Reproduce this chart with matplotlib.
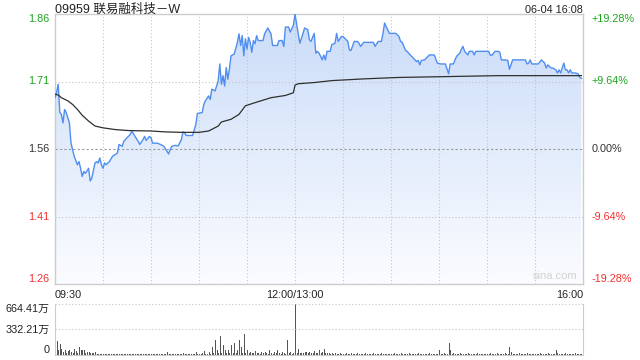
import matplotlib
matplotlib.use("Agg")
import matplotlib.pyplot as plt
import numpy as np
from matplotlib.colors import LinearSegmentedColormap

plt.rcParams['font.family'] = ['Liberation Sans', 'Noto Sans CJK SC', 'DejaVu Sans']

title = '09959 联易融科技－W'
stamp = '06-04 16:08'

# trading minutes since 09:30 (12:00 and 13:00 share minute 150)
minutes = [0, 1, 2, 3, 4, 5, 6, 7, 9, 10, 11, 12, 14, 15, 16, 17, 18, 19, 21, 22,
           23, 25, 26, 27, 28, 29, 30, 31, 32, 33, 34, 36, 39, 40, 42, 43, 45, 47, 48, 50,
           52, 53, 55, 56, 57, 59, 60, 61, 64, 66, 68, 70, 71, 72, 73, 75, 77, 79, 80, 81,
           82, 84, 86, 88, 89, 92, 93, 94, 96, 97, 98, 100, 101, 102, 103, 104, 105, 106, 107, 108,
           109, 110, 112, 114, 115, 116, 117, 118, 119, 120, 121, 122, 123, 124, 125, 126, 127, 129, 130, 131,
           133, 135, 136, 139, 140, 142, 143, 144, 146, 147, 149, 150,
           151, 153, 155, 156, 158, 159, 160, 162, 163, 164,
           165, 166, 167, 168, 169, 170, 172, 173, 175, 176,
           177, 179, 180, 183, 184, 185, 187, 189, 190, 191,
           193, 196, 199, 200, 202, 204, 205, 206, 207, 209,
           213, 215, 216, 217, 219, 220, 222, 224, 226, 227,
           228, 229, 231, 234, 236, 237, 239, 241, 244, 246,
           247, 249, 250, 251, 253, 254, 255, 256, 258, 259,
           261, 262, 263, 266, 269, 271, 272, 273, 275, 277,
           278, 279, 281, 283, 284, 285, 286, 288, 292, 294,
           295, 296, 297, 298, 302, 304, 306, 307, 308, 310,
           311, 313, 314, 315, 316, 317, 318, 319, 320, 321,
           322, 323, 325, 327, 328, 329]
prices = [1.674, 1.685, 1.704, 1.641, 1.637, 1.618, 1.648, 1.641, 1.618, 1.573,
          1.559, 1.544, 1.525, 1.532, 1.517, 1.499, 1.510, 1.506, 1.517, 1.489,
          1.495, 1.529, 1.532, 1.529, 1.540, 1.525, 1.517, 1.529, 1.525, 1.529,
          1.532, 1.544, 1.551, 1.570, 1.566, 1.577, 1.585, 1.592, 1.600, 1.588,
          1.577, 1.570, 1.581, 1.588, 1.579, 1.588, 1.585, 1.573, 1.573, 1.570,
          1.566, 1.555, 1.549, 1.559, 1.566, 1.568, 1.567, 1.581, 1.598, 1.596,
          1.590, 1.590, 1.590, 1.614, 1.639, 1.641, 1.659, 1.667, 1.678, 1.670,
          1.693, 1.689, 1.700, 1.711, 1.749, 1.704, 1.723, 1.700, 1.741, 1.715,
          1.738, 1.767, 1.771, 1.797, 1.816, 1.790, 1.812, 1.767, 1.805, 1.782,
          1.808, 1.797, 1.775, 1.801, 1.794, 1.812, 1.801, 1.801, 1.801, 1.816,
          1.829, 1.816, 1.790, 1.790, 1.801, 1.801, 1.788, 1.831, 1.831, 1.820,
          1.835, 1.860,
          1.838, 1.795, 1.817, 1.829, 1.825, 1.803, 1.799, 1.817, 1.773, 1.777,
          1.773, 1.766, 1.758, 1.769, 1.758, 1.777, 1.777, 1.792, 1.795, 1.817,
          1.799, 1.810, 1.810, 1.799, 1.780, 1.779, 1.799, 1.799, 1.795, 1.788,
          1.797, 1.797, 1.797, 1.788, 1.799, 1.799, 1.817, 1.840, 1.832, 1.817,
          1.817, 1.810, 1.799, 1.797, 1.780, 1.777, 1.769, 1.762, 1.754, 1.757,
          1.747, 1.757, 1.758, 1.769, 1.769, 1.769, 1.751, 1.749, 1.749, 1.727,
          1.749, 1.749, 1.758, 1.766, 1.773, 1.782, 1.788, 1.777, 1.769, 1.777,
          1.777, 1.769, 1.777, 1.777, 1.777, 1.777, 1.769, 1.768, 1.777, 1.777,
          1.775, 1.758, 1.758, 1.757, 1.737, 1.747, 1.758, 1.758, 1.758, 1.758,
          1.749, 1.751, 1.758, 1.749, 1.749, 1.758, 1.751, 1.740, 1.747, 1.740,
          1.740, 1.736, 1.729, 1.736, 1.729, 1.740, 1.751, 1.736, 1.736, 1.729,
          1.736, 1.729, 1.729, 1.727, 1.719, 1.717]

avg_minutes = [0, 2, 4, 8, 11, 14, 17, 21, 25, 30, 38, 46, 60, 69, 79, 90, 96, 102, 104, 110,
               115, 119, 125, 135, 144, 149, 150, 152, 163, 173, 194, 215, 246, 277, 329]
avg_prices = [1.682, 1.680, 1.674, 1.667, 1.659, 1.648, 1.635, 1.622, 1.611, 1.607,
              1.603, 1.601, 1.600, 1.598, 1.597, 1.597, 1.600, 1.611, 1.620, 1.626,
              1.637, 1.656, 1.663, 1.674, 1.679, 1.685, 1.702, 1.705, 1.708, 1.712,
              1.716, 1.719, 1.721, 1.723, 1.723]

# volume per minute, in 万 shares
volumes = [350, 180, 60, 140, 80, 40, 60, 30, 50, 60, 40, 30, 80, 50, 30, 100, 60, 70, 60, 30, 40, 40, 20, 30, 20, 40, 15, 10, 12, 10,
           10, 12, 8, 10, 15, 10, 8, 12, 10, 8, 10, 15, 12, 10, 8, 12, 10, 15, 10, 8, 10, 12, 10, 8, 12, 10, 15, 10, 8, 10,
           10, 12, 8, 10, 15, 12, 10, 8, 12, 10, 40, 12, 10, 15, 10, 8, 12, 10, 15, 10, 30, 12, 10, 15, 10, 12, 8, 15, 40, 12,
           15, 12, 20, 50, 15, 12, 40, 15, 100, 20, 200, 60, 20, 250, 30, 130, 60, 25, 60, 20, 130, 30, 160, 20, 60, 200, 100, 25, 270, 30,
           60, 20, 40, 25, 20, 50, 25, 20, 15, 40, 20, 40, 25, 15, 60, 20, 15, 40, 25, 70, 20, 15, 40, 20, 15, 190, 20, 40, 15, 20,
           664, 25, 80, 30, 30, 20, 40, 40, 25, 40, 30, 20, 50, 25, 30, 60, 25, 40, 80, 30, 30, 20, 15, 25, 15, 20, 15, 12, 20, 15,
           15, 12, 20, 10, 15, 20, 12, 15, 10, 20, 12, 15, 10, 15, 20, 12, 10, 15, 12, 20, 15, 10, 12, 15, 20, 10, 15, 12, 10, 15,
           12, 15, 20, 10, 15, 12, 20, 15, 10, 12, 15, 20, 10, 12, 15, 10, 15, 20, 12, 10, 15, 12, 10, 15, 20, 12, 10, 15, 12, 10,
           70, 15, 12, 20, 10, 15, 150, 70, 15, 20, 12, 10, 15, 20, 12, 10, 15, 12, 20, 10, 15, 12, 10, 15, 20, 12, 10, 15, 12, 10,
           15, 12, 20, 10, 15, 12, 20, 15, 10, 12, 15, 20, 10, 15, 110, 40, 15, 12, 10, 15, 20, 12, 10, 15, 12, 20, 15, 10, 12, 15,
           12, 15, 10, 20, 12, 15, 10, 12, 20, 15, 10, 12, 15, 60, 20, 15, 10, 12, 15, 20, 12, 15, 10, 12, 15, 20, 15, 12, 10, 15]

price_ticks = [1.26, 1.41, 1.56, 1.71, 1.86]
price_labels = ['1.26', '1.41', '1.56', '1.71', '1.86']
pct_labels = ['-19.28%', '-9.64%', '0.00%', '+9.64%', '+19.28%']
time_ticks = [0, 150, 330]
time_labels = ['09:30', '12:00/13:00', '16:00']
vol_ticks = [0, 332.21, 664.41]
vol_labels = ['0', '332.21万', '664.41万']

GREEN = '#1ea51e'
RED = '#f23030'
DARK = '#333333'
label_colors = [RED, RED, DARK, GREEN, GREEN]
GRID = '#c4c4c4'
BORDER = '#cccccc'

fig = plt.figure(figsize=(6.4, 3.6), dpi=100)
ax = fig.add_axes([55 / 640, 1 - 284 / 360, 528 / 640, 270 / 360])

# gradient area under the price line
poly = ax.fill_between(minutes, prices, price_ticks[0], color='none', lw=0)
grad = np.linspace(0, 1, 256).reshape(-1, 1)
cmap = LinearSegmentedColormap.from_list('area', ['#fbfcff', '#cadcf8'])
im = ax.imshow(grad, extent=[0, 330, 1.26, 1.86], origin='lower', aspect='auto',
               cmap=cmap, zorder=1, interpolation='bilinear')
im.set_clip_path(poly.get_paths()[0], ax.transData)

for m in range(30, 330, 30):
    ax.axvline(m, color=GRID, lw=0.8, ls=(0, (1, 2)), zorder=2)
ax.axhline(1.41, color=GRID, lw=0.8, ls=(0, (1, 2)), zorder=2)
ax.axhline(1.71, color=GRID, lw=0.8, ls=(0, (1, 2)), zorder=2)
ax.axhline(1.56, color='#999999', lw=0.8, ls=(0, (2, 2)), zorder=2)

ax.plot(minutes, prices, color='#4f8ef0', lw=1.0, zorder=4)
ax.plot(avg_minutes, avg_prices, color='#2f2f2f', lw=0.9, zorder=5)

ax.set_xlim(0, 330)
ax.set_ylim(1.26, 1.86)
for s in ax.spines.values():
    s.set_color(BORDER)
    s.set_linewidth(1.0)

ax.set_yticks(price_ticks)
ax.set_yticklabels(price_labels)
ax.tick_params(axis='y', length=0, pad=4, labelsize=7.8)
vas = ['bottom', 'center', 'center', 'center', 'top']
for lab, c, va in zip(ax.get_yticklabels(), label_colors, vas):
    lab.set_color(c)
    lab.set_va(va)

ax.set_xticks(time_ticks)
ax.set_xticklabels(time_labels)
ax.tick_params(axis='x', length=0, pad=4, labelsize=7.8, labelcolor='#222222')
for lab, ha in zip(ax.get_xticklabels(), ['left', 'center', 'right']):
    lab.set_ha(ha)

ax2 = ax.twinx()
ax2.set_ylim(1.26, 1.86)
ax2.set_yticks(price_ticks)
ax2.set_yticklabels(pct_labels)
ax2.tick_params(axis='y', length=0, pad=6, labelsize=7.8)
for lab, c, va in zip(ax2.get_yticklabels(), label_colors, vas):
    lab.set_color(c)
    lab.set_va(va)
for s in ax2.spines.values():
    s.set_visible(False)

ax.text(0.99, 0.012, 'sina.com', transform=ax.transAxes, ha='right', va='bottom',
        fontsize=8, color='#d2d2d2', zorder=6)

fig.text(55 / 640, 1 - 13 / 360, title, fontsize=9, color='#222222', va='baseline', ha='left')
fig.text(583 / 640, 1 - 13 / 360, stamp, fontsize=7.8, color='#222222', va='baseline', ha='right')

# volume panel
vax = fig.add_axes([55 / 640, 1 - 355 / 360, 528 / 640, 51 / 360])
vax.bar(np.arange(len(volumes)), volumes, width=0.6, align='edge', color='#555555', lw=0)
vax.set_xlim(0, 330)
vax.set_ylim(0, 664.41)
vax.axhline(332.21, color=GRID, lw=0.8, ls=(0, (1, 2)))
vax.axhline(664.41, color=GRID, lw=0.8, ls=(0, (1, 2)), clip_on=False)
vax.spines['top'].set_visible(False)
for k in ['left', 'right', 'bottom']:
    vax.spines[k].set_color(BORDER)
vax.set_xticks([])
vax.set_yticks(vol_ticks)
vax.set_yticklabels(vol_labels)
vax.tick_params(axis='y', length=0, pad=4, labelsize=7.8, labelcolor='#222222')
for lab, va in zip(vax.get_yticklabels(), ['bottom', 'center', 'top']):
    lab.set_va(va)

fig.savefig('out.png', dpi=100)
